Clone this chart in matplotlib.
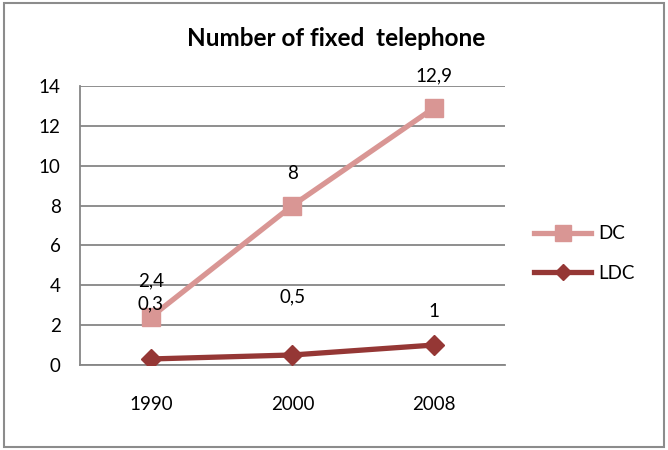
import matplotlib.pyplot as plt
from matplotlib.patches import Rectangle

years = ["1990", "2000", "2008"]
dc = [2.4, 8, 12.9]
ldc = [0.3, 0.5, 1]
dc_labels = ["2,4", "8", "12,9"]
ldc_labels = ["0,3", "0,5", "1"]

plt.rcParams['font.family'] = ['Lato', 'DejaVu Sans']

fig = plt.figure(figsize=(6.68, 4.5), dpi=100)
ax = fig.add_axes([0.1198, 0.189, 0.636, 0.620])

x = range(len(years))
ax.plot(x, dc, color="#D99694", lw=3.8, marker="s", ms=13, label="DC", zorder=3)
ax.plot(x, ldc, color="#953735", lw=3.8, marker="D", ms=10, label="LDC", zorder=4)

dc_off = [26, 23, 23]  # label lift above each DC point (pt)
for i, t in enumerate(dc_labels):
    ax.annotate(t, (i, dc[i]), xytext=(0, dc_off[i]), textcoords="offset points",
                ha="center", va="center", fontsize=13.5)
ldc_off = [40, 42, 24]  # label lift above each LDC point (pt)
for i, t in enumerate(ldc_labels):
    ax.annotate(t, (i, ldc[i]), xytext=(0, ldc_off[i]), textcoords="offset points",
                ha="center", va="center", fontsize=13.5)

ax.set_xlim(-0.5, 2.5)
ax.set_ylim(0, 14)
ax.set_yticks(range(0, 15, 2))
ax.set_xticks(list(x))
ax.set_xticklabels(years)
ax.tick_params(axis="x", length=0, pad=22, labelsize=13.5)
ax.tick_params(axis="y", length=0, pad=14, labelsize=13.5)
ax.grid(axis="y", color="#868686", lw=1.3)
ax.set_axisbelow(True)
for s in ["top", "right"]:
    ax.spines[s].set_visible(False)
for s in ["left", "bottom"]:
    ax.spines[s].set_color("#868686")
    ax.spines[s].set_linewidth(1.3)

fig.text(0.503, 0.915, "Number of fixed  telephone", ha="center", va="center",
         fontsize=17.5, fontweight="bold")

ax.legend(loc="center left", bbox_to_anchor=(1.03, 0.40), frameon=False,
          fontsize=13.5, handlelength=3.0, labelspacing=1.2, markerscale=0.85,
          handletextpad=0.4)

fig.patches.append(Rectangle((0.006, 0.006), 0.988, 0.988, transform=fig.transFigure,
                             fill=False, edgecolor="#8c8c8c", lw=1.5))

fig.savefig("out.png", dpi=100)
